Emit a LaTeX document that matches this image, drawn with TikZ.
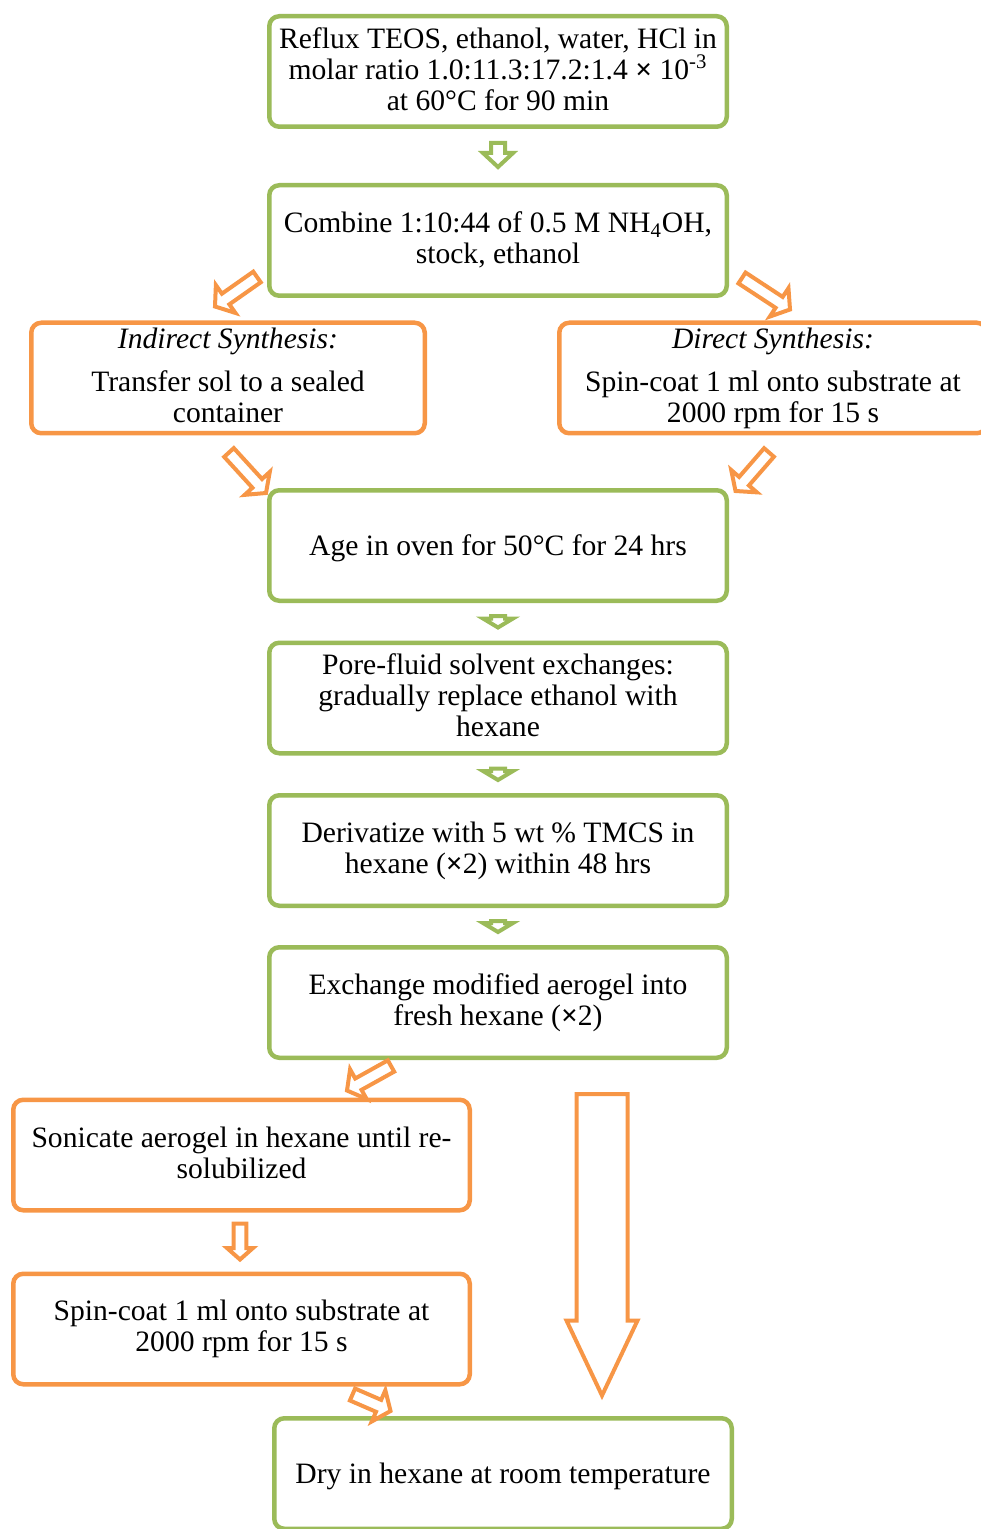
\documentclass[tikz,border=0pt]{standalone}
\usepackage{fontspec}
\setmainfont{Liberation Serif}
\usepackage{xcolor}
\usetikzlibrary{positioning, calc}

\definecolor{stepgreen}{RGB}{155,187,89}
\definecolor{steporange}{RGB}{247,150,70}
\newcommand{\boxstrut}{\rule[-2.65pt]{0pt}{15.5pt}}

\begin{document}
\begin{tikzpicture}[x=0.5pt, y=-0.5pt, on grid,
		box/.style={draw, rounded corners=5pt, line width=2.25pt, fill=white, align=center,
			minimum width=228.75pt, minimum height=55.25pt, inner sep=2pt,
			font=\fontsize{14.8}{15.5}\selectfont,
			execute at begin node=\boxstrut, execute at end node=\boxstrut},
		greenbox/.style={box, draw=stepgreen},
		orangebox/.style={box, draw=steporange},
		hollow/.style n args={3}{line width=2pt, line join=miter, to path={
				let \p1=(\tikztostart), \p2=(\tikztotarget), \p3=($(\p2)!#3!(\p1)$) in
				($(\p1)!#1!90:(\p2)$) -- ($(\p3)!#1!90:(\p2)$) -- ($(\p3)!#2!90:(\p2)$) -- (\p2)
				-- ($(\p3)!#2!-90:(\p2)$) -- ($(\p3)!#1!-90:(\p2)$) -- ($(\p1)!#1!-90:(\p2)$) -- cycle}},
		greenarrow/.style={stepgreen, hollow={3.5pt}{7.5pt}{4.5pt}},
		orangearrow/.style={steporange, hollow={3.25pt}{8.5pt}{6.5pt}}]
			\useasboundingbox (0,0) rectangle (980,1529);
			
			\node[greenbox] (reflux) at (498,71.5) {Reflux TEOS, ethanol, water, HCl in\\molar ratio 1.0:11.3:17.2:1.4 {\bfseries ×} 10\textsuperscript{-3}\\at 60°C for 90 min};
			\node[greenbox, below=84.5pt of reflux] (combine) {Combine 1:10:44 of 0.5 M NH\textsubscript{4}OH,\\stock, ethanol};
			\node[orangebox, minimum width=196.75pt] (indirect) at (228,378) {\textit{Indirect Synthesis:}\\[6pt]Transfer sol to a sealed\\container};
			\node[orangebox, minimum width=213.75pt] (direct) at (773,378) {\textit{Direct Synthesis:}\\[6pt]Spin-coat 1 ml onto substrate at\\2000 rpm for 15 s};
			\node[greenbox] (age) at (498,545.5) {Age in oven for 50°C for 24 hrs};
			\node[greenbox, below=76.25pt of age] (pore) {Pore-fluid solvent exchanges:\\gradually replace ethanol with\\hexane};
			\node[greenbox, below=76.25pt of pore] (deriv) {Derivatize with 5 wt \% TMCS in\\hexane ({\bfseries ×}2) within 48 hrs};
			\node[greenbox, below=76pt of deriv] (exchange) {Exchange modified aerogel into\\fresh hexane ({\bfseries ×}2)};
			\node[orangebox, minimum width=228.25pt] (sonicate) at (241.5,1155) {Sonicate aerogel in hexane until re-\\solubilized};
			\node[orangebox, minimum width=228.25pt, below=87pt of sonicate] (spin) {Spin-coat 1 ml onto substrate at\\2000 rpm for 15 s};
			\node[greenbox] (dry) at (503,1473.5) {Dry in hexane at room temperature};
			
			\path ($(reflux.south)+(0,14)$) edge[stepgreen, hollow={3.5pt}{7.5pt}{7pt}] ($(combine.north)+(0,-16)$)
			($(age.south)+(0,13)$) edge[greenarrow] ($(pore.north)+(0,-13)$)
			($(pore.south)+(0,13)$) edge[greenarrow] ($(deriv.north)+(0,-13)$)
			($(deriv.south)+(0,13)$) edge[greenarrow] ($(exchange.north)+(0,-13)$);
			
			\path ($(combine.south west)+(-10,-21)$) edge[orangearrow] ($(indirect.north)+(-13,-14)$)
			($(combine.south east)+(13,-20)$) edge[orangearrow] ($(direct.north)+(17,-11)$)
			($(indirect.south)+(1,17)$) edge[orangearrow] ($(age.north west)+(-1,5)$)
			($(direct.south)+(-4,17)$) edge[orangearrow] ($(age.north east)+(6.5,3)$)
			($(exchange.south)+(-107,6)$) edge[orangearrow] ($(sonicate.north)+(105.5,-7)$)
			($(sonicate.south)+(-1.5,11)$) edge[steporange, hollow={3.15pt}{6.5pt}{5.75pt}] ($(spin.north)+(-1.5,-12)$)
			($(spin.south)+(111,8)$) edge[orangearrow] ($(dry.north)+(-112.5,-5)$)
			($(exchange.south)+(104,34)$) edge[steporange, hollow={12.75pt}{17.75pt}{37.5pt}] ($(dry.north)+(99,-20.5)$);
			
\end{tikzpicture}
\end{document}
